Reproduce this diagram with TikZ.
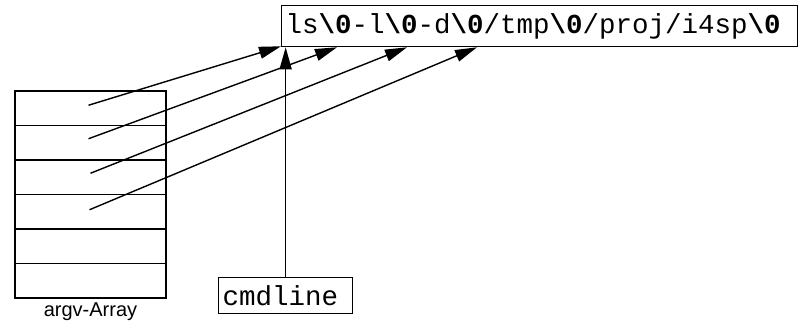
\documentclass[tikz,border=0pt]{standalone}
\usepackage{fontspec}
\setmainfont{Liberation Sans}
\newfontfamily\mono{Liberation Mono}
\usetikzlibrary{positioning,calc,arrows.meta}

\newcommand{\nul}{\textbf{\textbackslash0}}

\begin{document}
\begin{tikzpicture}[x=1pt,y=-1pt,
		cell/.style={draw,line width=1.3pt,minimum width=151pt,minimum height=34.5pt,inner sep=0pt,outer sep=0pt},
		str/.style={draw,line width=1.3pt,font=\mono\fontsize{27.5}{30}\selectfont,inner xsep=4pt,inner ysep=0pt,align=left},
		ptr/.style={line width=1.4pt,-{Triangle[length=22pt,width=12pt]}}]
	\useasboundingbox (0,0) rectangle (798,323);

	\node[str,anchor=north west,text width=508pt,minimum height=41pt]	at (281,5)	(line)	{ls\nul-l\nul-d\nul/tmp\nul/proj/i4sp\nul};
	\node[str,anchor=north west,text width=126pt,minimum height=36pt]	at (218,277)	(cmd)	{cmdline};

	% argv array
	\foreach \i in {1,...,6}
		\node[cell,anchor=north west] at (15,{91+34.5*(\i-1)}) (a\i) {};
	\node[font=\fontsize{20}{22}\selectfont,below=1pt of a6] (lbl) {argv-Array};

	\draw[ptr] ($(a1.center)+(-2,-3)$) -- ($(line.south west)+(0,-1)$);
	\draw[ptr] ($(a2.center)+(-2,-4)$) -- ($(line.south west)+(56,0)$);
	\draw[ptr] ($(a3.center)+(0,-4)$) -- ($(line.south west)+(126,0)$);
	\draw[ptr] ($(a4.center)+(-1,-2)$) -- ($(line.south west)+(196,0)$);
	\draw[ptr] (cmd.north) -- (cmd.north |- line.south);
\end{tikzpicture}
\end{document}
